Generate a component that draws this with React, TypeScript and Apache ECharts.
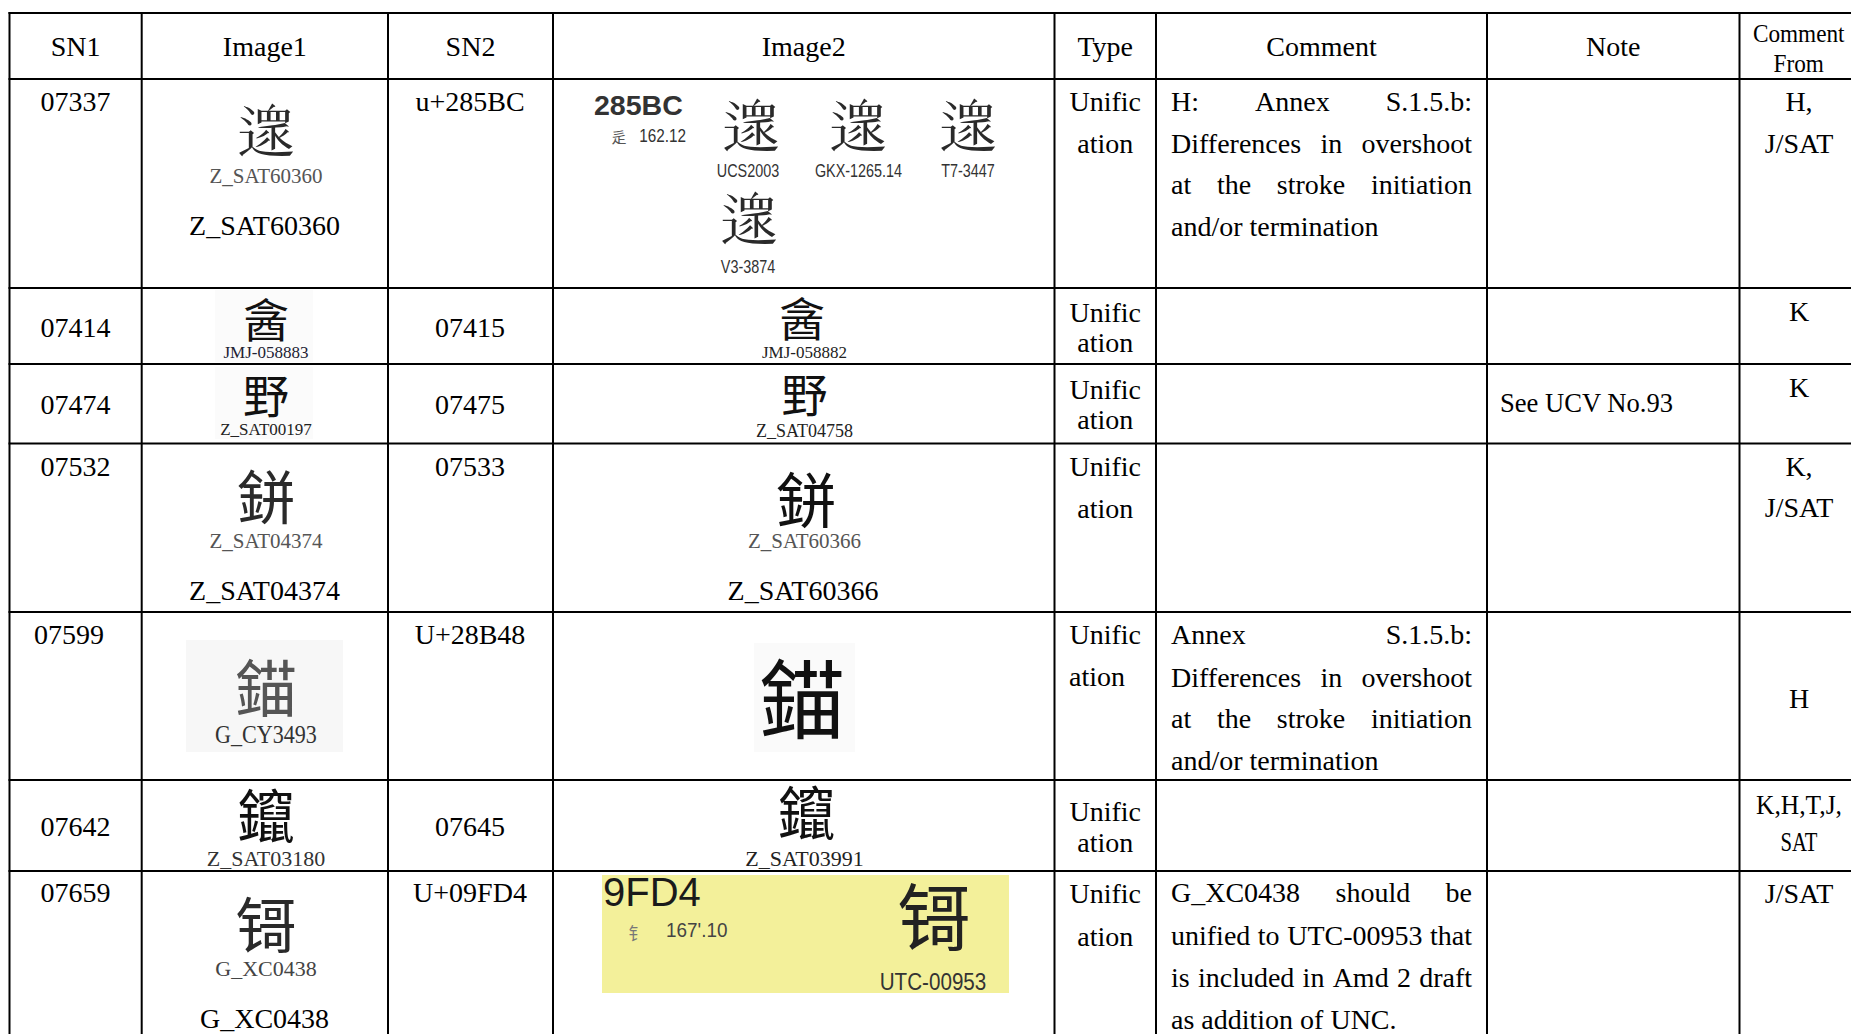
import React, { useEffect, useRef } from "react";
import * as echarts from "echarts";

// ---------- table content ----------
const headers = ["SN1", "Image1", "SN2", "Image2", "Type", "Comment", "Note"];
const headerLast = ["Comment", "From"];
const sn1 = ["07337", "07414", "07474", "07532", "07599", "07642", "07659"];
const sn2 = ["u+285BC", "07415", "07475", "07533", "U+28B48", "07645", "U+09FD4"];
const image1Glyphs = [String.fromCodePoint(0x285bc), "酓", "野", "鉼", "錨", "鑹", "\u9fd4"];
const image1Labels = ["Z_SAT60360", "JMJ-058883", "Z_SAT00197", "Z_SAT04374", "G_CY3493", "Z_SAT03180", "G_XC0438"];
const image1Captions = ["Z_SAT60360", "", "", "Z_SAT04374", "", "", "G_XC0438"];
const image2Glyphs = [String.fromCodePoint(0x285bc), "酓", "野", "鉼", "錨", "鑹", "\u9fd4"];
const image2Labels = ["", "JMJ-058882", "Z_SAT04758", "Z_SAT60366", "", "Z_SAT03991", ""];
const image2Captions = ["", "", "", "Z_SAT60366", "", "", ""];
const row1Sources = ["UCS2003", "GKX-1265.14", "T7-3447", "V3-3874"];
const row1Code = ["285BC", "辵", "162.12"];
const row7Code = ["9FD4", "钅", "167'.10", "UTC-00953"];
const typeWords = ["Unific", "ation"];
const notes = ["", "", "See UCV No.93", "", "", "", ""];
const commentFrom = [["H,", "J/SAT"], ["K"], ["K"], ["K,", "J/SAT"], ["H"], ["K,H,T,J,", "SAT"], ["J/SAT"]];
const comments = [
  ["H: Annex S.1.5.b:", "Differences in overshoot", "at the stroke initiation", "and/or termination"],
  [],
  [],
  [],
  ["Annex S.1.5.b:", "Differences in overshoot", "at the stroke initiation", "and/or termination"],
  [],
  ["G_XC0438 should be", "unified to UTC-00953 that", "is included in Amd 2 draft", "as addition of UNC."],
];

// ---------- layout ----------
const colX = [9.5, 141.7, 388, 553, 1054.5, 1156, 1487, 1739.5, 1858];
const rowY = [13, 79, 288, 364, 443.5, 612, 780, 871, 1045];
const snY = [101, 327, 404, 466, 634, 826, 892];
const typeY = [[101, 143], [312.5, 342.5], [389, 419], [466, 508], [634, 676], [811, 842.5], [893, 936]];
const fromY = [[101, 143], [311.5], [387.5], [466, 507.5], [698], [805, 841.5], [893]];
const commentY = [[101, 143, 184, 226], [], [], [], [634, 677, 718, 760], [], [892, 935, 977, 1019]];

const SERIF = "'Liberation Serif','Times New Roman',serif";
const SANS = "'Liberation Sans',Arial,sans-serif";
const CJK = "'Noto Sans CJK TC','Noto Sans CJK SC','Noto Sans CJK JP',sans-serif";

let ctx: CanvasRenderingContext2D | null = null;
function measure(text: string, size: number, family: string) {
  if (!ctx) ctx = document.createElement("canvas").getContext("2d");
  ctx!.font = `${size}px ${family}`;
  return ctx!.measureText(text).width;
}

type O = { size?: number; family?: string; align?: string; color?: string; weight?: string | number; sx?: number };
function txt(text: string, x: number, y: number, o: O = {}) {
  const align = o.align ?? "center";
  return {
    type: "text",
    x,
    y,
    scaleX: o.sx ?? 1,
    silent: true,
    style: {
      text,
      fill: o.color ?? "#000",
      fontSize: o.size ?? 28,
      fontFamily: o.family ?? SERIF,
      fontWeight: o.weight ?? "normal",
      textAlign: align,
      textVerticalAlign: "middle",
    },
  };
}

function justified(line: string, y: number, x0: number, x1: number, justify: boolean) {
  if (!justify) return [txt(line, x0, y, { align: "left" })];
  const words = line.split(" ");
  const widths = words.map((w) => measure(w, 28, SERIF));
  const total = widths.reduce((a, b) => a + b, 0);
  const gap = (x1 - x0 - total) / (words.length - 1);
  let x = x0;
  const out: any[] = [];
  words.forEach((w, i) => {
    out.push(txt(w, x, y, { align: "left" }));
    x += widths[i] + gap;
  });
  return out;
}

function buildElements() {
  const els: any[] = [];
  // faint image backgrounds
  const bg = (x: number, y: number, w: number, h: number, c: string) =>
    els.push({ type: "rect", silent: true, shape: { x, y, width: w, height: h }, style: { fill: c } });
  bg(215, 290, 98, 72, "#fbfbfb");
  bg(215, 367, 98, 72, "#fbfbfb");
  bg(186, 640, 157, 112, "#f7f7f7");
  bg(754, 643, 101, 109, "#fafafa");
  bg(602, 875, 407, 118, "#f3f09a");

  // grid
  const lw = 2;
  colX.forEach((x) =>
    els.push({ type: "rect", silent: true, shape: { x: x - lw / 2, y: rowY[0] - lw / 2, width: lw, height: rowY[rowY.length - 1] - rowY[0] }, style: { fill: "#000" } })
  );
  rowY.slice(0, -1).forEach((y) =>
    els.push({ type: "rect", silent: true, shape: { x: colX[0] - lw / 2, y: y - lw / 2, width: colX[colX.length - 1] - colX[0] + lw, height: lw }, style: { fill: "#000" } })
  );

  const centers = colX.slice(0, -1).map((x, i) => (x + colX[i + 1]) / 2);
  // header
  headers.forEach((h, i) => els.push(txt(h, centers[i], 46.5)));
  els.push(txt(headerLast[0], centers[7], 33, { size: 25, sx: 0.93 }));
  els.push(txt(headerLast[1], centers[7], 63.5, { size: 25, sx: 0.93 }));

  // rows
  sn1.forEach((s, r) => {
    if (r === 4) els.push(txt(s, 34, snY[r], { align: "left" }));
    else els.push(txt(s, 75.5, snY[r]));
  });
  sn2.forEach((s, r) => els.push(txt(s, 470, snY[r])));

  // type column
  typeY.forEach((ys, r) => {
    els.push(txt(typeWords[0], centers[4], ys[0]));
    if (r === 4) els.push(txt(typeWords[1], 1069, ys[1], { align: "left" }));
    else els.push(txt(typeWords[1], centers[4], ys[1]));
  });

  // comment column
  comments.forEach((lines, r) => {
    lines.forEach((l, k) => els.push(...justified(l, commentY[r][k], 1171, 1472, k < lines.length - 1)));
  });

  // notes
  notes.forEach((n) => {
    if (n) els.push(txt(n, 1500, 403, { align: "left", sx: 0.95 }));
  });

  // comment from
  commentFrom.forEach((items, r) => {
    items.forEach((t, k) => {
      let sx = 1;
      if (t === "K,H,T,J,") sx = 0.91;
      if (t === "SAT") sx = 0.74;
      els.push(txt(t, 1799, fromY[r][k], { sx }));
    });
  });

  // image1 column
  const g1 = [
    { y: 128, s: 58, c: "#2a2a2a" },
    { y: 316.5, s: 46, c: "#111" },
    { y: 392.5, s: 46, c: "#111" },
    { y: 494, s: 58, c: "#2a2a2a" },
    { y: 685, s: 62, c: "#555" },
    { y: 813, s: 58, c: "#111" },
    { y: 921, s: 60, c: "#2a2a2a" },
  ];
  const l1 = [
    { y: 176, s: 21, c: "#555", sx: 1 },
    { y: 352.5, s: 17, c: "#223", sx: 1 },
    { y: 429, s: 17, c: "#222", sx: 1 },
    { y: 541, s: 21, c: "#555", sx: 1 },
    { y: 734.5, s: 26, c: "#333", sx: 0.85 },
    { y: 858, s: 22, c: "#333", sx: 1 },
    { y: 968, s: 22, c: "#444", sx: 1 },
  ];
  const cap1Y = [225.5, 0, 0, 590, 0, 0, 1018];
  image1Glyphs.forEach((g, r) => {
    els.push(txt(g, 266, g1[r].y, { size: g1[r].s, family: CJK, color: g1[r].c }));
    els.push(txt(image1Labels[r], 266, l1[r].y, { size: l1[r].s, color: l1[r].c, sx: l1[r].sx }));
    if (image1Captions[r]) els.push(txt(image1Captions[r], 264.5, cap1Y[r]));
  });

  // image2 column, row 1 block
  els.push(txt(row1Code[0], 594, 105, { family: SANS, size: 28, weight: "bold", color: "#333", align: "left", sx: 1.02 }));
  els.push(txt(row1Code[1], 619, 136, { family: CJK, size: 15, color: "#555" }));
  els.push(txt(row1Code[2], 686, 136, { family: SANS, size: 18, color: "#333", align: "right", sx: 0.85 }));
  const r1g = [
    [751, 123],
    [858, 123],
    [968, 123],
    [749, 216],
  ];
  const r1l = [
    [748, 170.5],
    [858.5, 170.5],
    [968, 170.5],
    [748, 266.5],
  ];
  r1g.forEach(([x, y], i) => {
    els.push(txt(image2Glyphs[0], x, y, { size: 58, family: CJK, color: "#2a2a2a" }));
    els.push(txt(row1Sources[i], r1l[i][0], r1l[i][1], { family: SANS, size: 18, color: "#333", sx: 0.8 }));
  });

  // image2 rows 2-6
  const g2 = [
    null,
    { x: 802, y: 315.5, s: 46 },
    { x: 804.5, y: 391.5, s: 46 },
    { x: 806, y: 496.5, s: 60 },
    { x: 802, y: 694, s: 86 },
    { x: 806.5, y: 810, s: 58 },
  ];
  const l2 = [null, { y: 352.5, s: 17 }, { y: 430.5, s: 18 }, { y: 541, s: 21 }, null, { y: 858, s: 22 }];
  for (let r = 1; r <= 5; r++) {
    const g = g2[r]!;
    els.push(txt(image2Glyphs[r], g.x, g.y, { size: g.s, family: CJK, color: "#111" }));
    const l = l2[r];
    if (l && image2Labels[r]) els.push(txt(image2Labels[r], 804.5, l.y, { size: l.s, color: r === 3 ? "#555" : "#222" }));
    if (image2Captions[r]) els.push(txt(image2Captions[r], 803, 590));
  }

  // image2 row 7 (yellow)
  els.push(txt(row7Code[0], 603, 891.5, { family: SANS, size: 40, color: "#1a1a1a", align: "left" }));
  els.push(txt(row7Code[1], 637, 932, { family: CJK, size: 17, color: "#777" }));
  els.push(txt(row7Code[2], 666, 930, { family: SANS, size: 21, color: "#444", align: "left", sx: 0.9 }));
  els.push(txt(image2Glyphs[6], 934, 912, { size: 72, family: CJK, color: "#222" }));
  els.push(txt(row7Code[3], 933, 981.5, { family: SANS, size: 24, color: "#333", sx: 0.86 }));

  return els;
}

export default function App() {
  const ref = useRef<HTMLDivElement>(null);
  useEffect(() => {
    document.body.style.margin = "0";
    const chart = echarts.init(ref.current!, undefined, { renderer: "svg" });
    chart.setOption({
      animation: false,
      backgroundColor: "#fff",
      graphic: { elements: buildElements() },
    });
    return () => chart.dispose();
  }, []);
  return <div ref={ref} style={{ position: "absolute", left: 0, top: 0, width: 1851, height: 1034, overflow: "hidden" }} />;
}
